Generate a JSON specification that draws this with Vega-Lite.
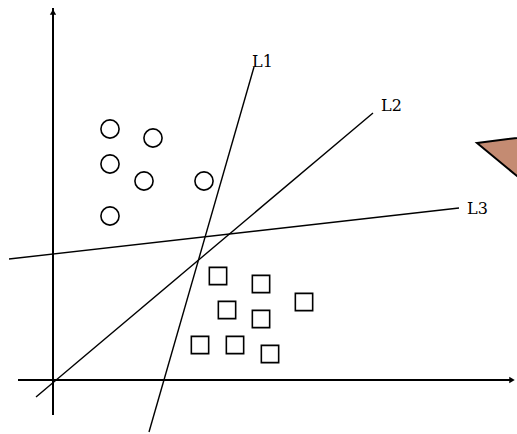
{
  "$schema": "https://vega.github.io/schema/vega-lite/v6.json",
  "width": 517,
  "height": 434,
  "autosize": {"type": "none"},
  "padding": 0,
  "background": "white",
  "config": {"view": {"stroke": null}},
  "datasets": {
    "axes": [
      {"name": "yaxis", "x": 53, "y": 8, "x2": 53, "y2": 415, "w": 2},
      {"name": "xaxis", "x": 18, "y": 380, "x2": 512, "y2": 380, "w": 2},
      {"name": "L1", "x": 254, "y": 67, "x2": 149, "y2": 432, "w": 1.4},
      {"name": "L2", "x": 36, "y": 397, "x2": 373, "y2": 113, "w": 1.4},
      {"name": "L3", "x": 9, "y": 259, "x2": 459, "y2": 208, "w": 1.4}
    ],
    "arrows": [
      {"x": 53, "y": 12, "dir": "triangle-up"},
      {"x": 512, "y": 380, "dir": "triangle-right"}
    ],
    "labels": [
      {"label": "L1", "x": 252, "y": 62},
      {"label": "L2", "x": 381, "y": 106},
      {"label": "L3", "x": 467, "y": 209}
    ],
    "circles": [
      {"x": 110, "y": 129},
      {"x": 153, "y": 138},
      {"x": 110, "y": 164},
      {"x": 144, "y": 181},
      {"x": 204, "y": 181},
      {"x": 110, "y": 216}
    ],
    "squares": [
      {"x": 218, "y": 276},
      {"x": 261, "y": 284},
      {"x": 304, "y": 302},
      {"x": 227, "y": 310},
      {"x": 261, "y": 319},
      {"x": 200, "y": 345},
      {"x": 235, "y": 345},
      {"x": 270, "y": 354}
    ],
    "triangle": [
      {"order": 1, "x": 477, "y": 143},
      {"order": 2, "x": 540, "y": 135},
      {"order": 3, "x": 540, "y": 195}
    ]
  },
  "layer": [
    {
      "data": {"name": "triangle"},
      "mark": {"type": "line", "interpolate": "linear-closed", "fill": "#c48b72", "stroke": "black", "strokeWidth": 2, "clip": false},
      "encoding": {
        "x": {"field": "x", "type": "quantitative", "scale": {"domain": [0, 517], "nice": false, "zero": false}, "axis": null},
        "y": {"field": "y", "type": "quantitative", "scale": {"domain": [0, 434], "reverse": true, "nice": false, "zero": false}, "axis": null},
        "order": {"field": "order"}
      }
    },
    {
      "data": {"name": "axes"},
      "mark": {"type": "rule", "color": "black", "strokeCap": "butt"},
      "encoding": {
        "x": {"field": "x", "type": "quantitative", "scale": {"domain": [0, 517], "nice": false, "zero": false}, "axis": null},
        "y": {"field": "y", "type": "quantitative", "scale": {"domain": [0, 434], "reverse": true, "nice": false, "zero": false}, "axis": null},
        "x2": {"field": "x2"},
        "y2": {"field": "y2"},
        "strokeWidth": {"field": "w", "type": "quantitative", "scale": null}
      }
    },
    {
      "data": {"name": "arrows"},
      "mark": {"type": "point", "filled": true, "color": "black", "size": 40, "opacity": 1},
      "encoding": {
        "x": {"field": "x", "type": "quantitative", "axis": null},
        "y": {"field": "y", "type": "quantitative", "axis": null},
        "shape": {"field": "dir", "type": "nominal", "scale": null}
      }
    },
    {
      "data": {"name": "circles"},
      "mark": {"type": "point", "shape": "circle", "filled": false, "color": "black", "strokeWidth": 1.6, "size": 330, "opacity": 1},
      "encoding": {
        "x": {"field": "x", "type": "quantitative", "axis": null},
        "y": {"field": "y", "type": "quantitative", "axis": null}
      }
    },
    {
      "data": {"name": "squares"},
      "mark": {"type": "point", "shape": "square", "filled": false, "color": "black", "strokeWidth": 1.6, "size": 300, "opacity": 1},
      "encoding": {
        "x": {"field": "x", "type": "quantitative", "axis": null},
        "y": {"field": "y", "type": "quantitative", "axis": null}
      }
    },
    {
      "data": {"name": "labels"},
      "mark": {"type": "text", "align": "left", "baseline": "middle", "font": "DejaVu Serif", "fontSize": 16, "color": "black"},
      "encoding": {
        "x": {"field": "x", "type": "quantitative", "axis": null},
        "y": {"field": "y", "type": "quantitative", "axis": null},
        "text": {"field": "label"}
      }
    }
  ]
}
